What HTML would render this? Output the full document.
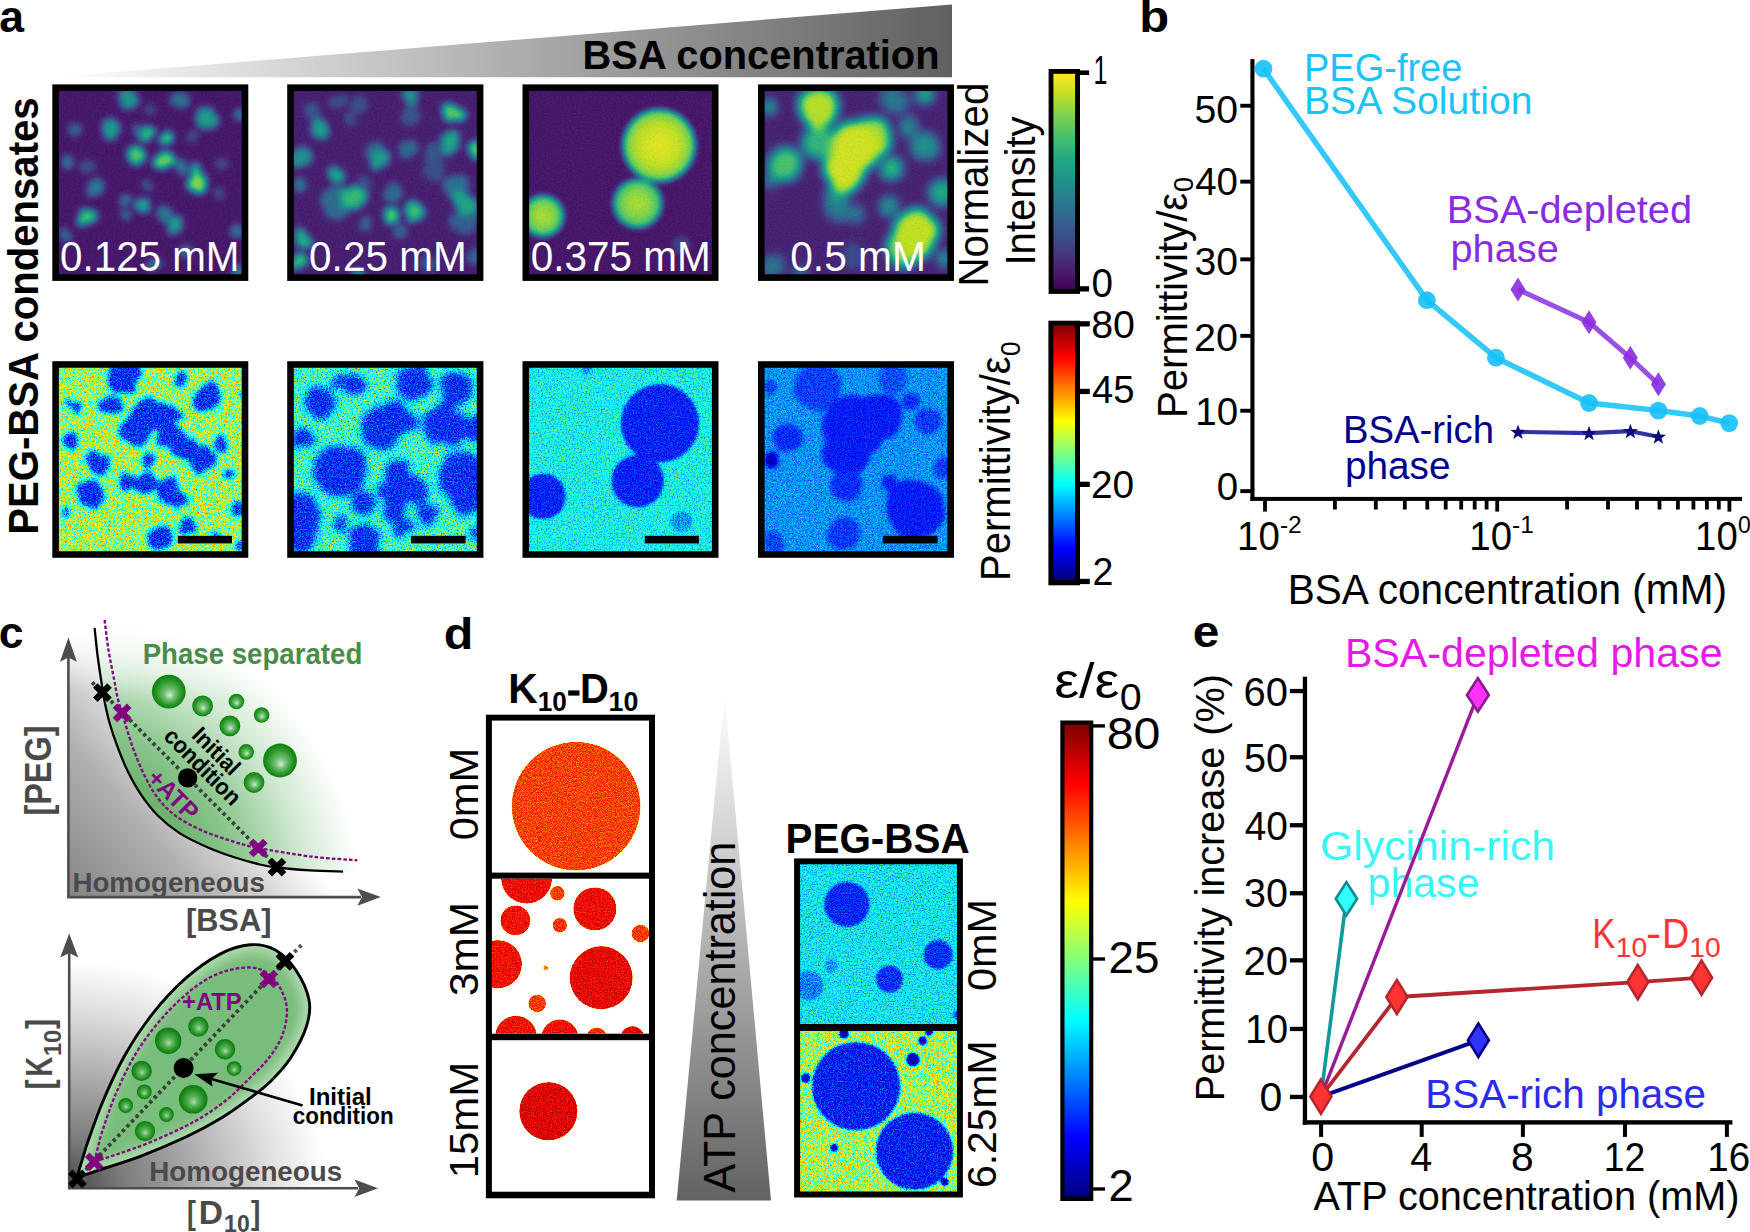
<!DOCTYPE html>
<html><head><meta charset="utf-8"><title>Figure</title>
<style>html,body{margin:0;padding:0;background:#fff}svg{display:block}text{font-family:"Liberation Sans",sans-serif}</style>
</head><body>
<svg width="1750" height="1232" viewBox="0 0 1750 1232">
<defs><linearGradient id="gWedgeA" x1="52" y1="0" x2="952" y2="0" gradientUnits="userSpaceOnUse"><stop offset="0" stop-color="#fff"/><stop offset="1" stop-color="#606060"/></linearGradient><linearGradient id="gVir" x1="0" y1="1" x2="0" y2="0"><stop offset="0" stop-color="rgb(68,1,84)"/><stop offset="0.1" stop-color="rgb(72,35,116)"/><stop offset="0.2" stop-color="rgb(64,67,135)"/><stop offset="0.3" stop-color="rgb(52,94,141)"/><stop offset="0.4" stop-color="rgb(41,120,142)"/><stop offset="0.5" stop-color="rgb(32,144,140)"/><stop offset="0.6" stop-color="rgb(34,167,132)"/><stop offset="0.7" stop-color="rgb(68,190,112)"/><stop offset="0.8" stop-color="rgb(121,209,81)"/><stop offset="0.9" stop-color="rgb(189,222,38)"/><stop offset="1" stop-color="rgb(253,231,36)"/></linearGradient><linearGradient id="gJet" x1="0" y1="1" x2="0" y2="0"><stop offset="0" stop-color="rgb(0,0,128)"/><stop offset="0.125" stop-color="rgb(0,0,255)"/><stop offset="0.375" stop-color="rgb(0,255,255)"/><stop offset="0.625" stop-color="rgb(255,255,0)"/><stop offset="0.875" stop-color="rgb(255,0,0)"/><stop offset="1" stop-color="rgb(128,0,0)"/></linearGradient><radialGradient id="gC1"><stop offset="0" stop-color="rgb(245,245,245)"/><stop offset="0.55" stop-color="rgb(232,232,232)"/><stop offset="0.85" stop-color="rgb(205,205,205)"/><stop offset="1" stop-color="rgb(150,150,150)"/></radialGradient><radialGradient id="gC2"><stop offset="0" stop-color="rgb(225,225,225)"/><stop offset="0.5" stop-color="rgb(210,210,210)"/><stop offset="0.85" stop-color="rgb(180,180,180)"/><stop offset="1" stop-color="rgb(130,130,130)"/></radialGradient><filter id="fV1" x="-5%" y="-5%" width="110%" height="110%" color-interpolation-filters="sRGB"><feTurbulence type="fractalNoise" baseFrequency="0.05" numOctaves="2" seed="103" result="dn"/><feDisplacementMap in="SourceGraphic" in2="dn" scale="14" xChannelSelector="R" yChannelSelector="G" result="d"/><feGaussianBlur in="d" stdDeviation="3.3" result="b"/><feTurbulence type="fractalNoise" baseFrequency="0.5" numOctaves="2" seed="3" result="n"/><feColorMatrix in="n" type="matrix" values="1 0 0 0 0 1 0 0 0 0 1 0 0 0 0 0 0 0 0 1" result="ng"/><feComposite in="b" in2="ng" operator="arithmetic" k1="0" k2="1" k3="0.08" k4="-0.04" result="v"/><feComponentTransfer in="v" result="c"><feFuncR type="table" tableValues="0.267 0.282 0.251 0.204 0.161 0.125 0.133 0.267 0.475 0.741 0.992"/><feFuncG type="table" tableValues="0.004 0.137 0.263 0.369 0.471 0.565 0.655 0.745 0.820 0.871 0.906"/><feFuncB type="table" tableValues="0.329 0.455 0.529 0.553 0.557 0.549 0.518 0.439 0.318 0.149 0.141"/></feComponentTransfer></filter><filter id="fV3" x="-5%" y="-5%" width="110%" height="110%" color-interpolation-filters="sRGB"><feGaussianBlur in="SourceGraphic" stdDeviation="2.4" result="b"/><feTurbulence type="fractalNoise" baseFrequency="0.6" numOctaves="2" seed="5" result="n"/><feColorMatrix in="n" type="matrix" values="1 0 0 0 0 1 0 0 0 0 1 0 0 0 0 0 0 0 0 1" result="ng"/><feComposite in="b" in2="ng" operator="arithmetic" k1="0" k2="1" k3="0.1" k4="-0.05" result="v"/><feComponentTransfer in="v" result="c"><feFuncR type="table" tableValues="0.267 0.282 0.251 0.204 0.161 0.125 0.133 0.267 0.475 0.741 0.992"/><feFuncG type="table" tableValues="0.004 0.137 0.263 0.369 0.471 0.565 0.655 0.745 0.820 0.871 0.906"/><feFuncB type="table" tableValues="0.329 0.455 0.529 0.553 0.557 0.549 0.518 0.439 0.318 0.149 0.141"/></feComponentTransfer></filter><filter id="fV4" x="-5%" y="-5%" width="110%" height="110%" color-interpolation-filters="sRGB"><feTurbulence type="fractalNoise" baseFrequency="0.03" numOctaves="2" seed="107" result="dn"/><feDisplacementMap in="SourceGraphic" in2="dn" scale="10" xChannelSelector="R" yChannelSelector="G" result="d"/><feGaussianBlur in="d" stdDeviation="5" result="b"/><feTurbulence type="fractalNoise" baseFrequency="0.6" numOctaves="2" seed="7" result="n"/><feColorMatrix in="n" type="matrix" values="1 0 0 0 0 1 0 0 0 0 1 0 0 0 0 0 0 0 0 1" result="ng"/><feComposite in="b" in2="ng" operator="arithmetic" k1="0" k2="1" k3="0.1" k4="-0.05" result="v"/><feComponentTransfer in="v" result="c"><feFuncR type="table" tableValues="0.267 0.282 0.251 0.204 0.161 0.125 0.133 0.267 0.475 0.741 0.992"/><feFuncG type="table" tableValues="0.004 0.137 0.263 0.369 0.471 0.565 0.655 0.745 0.820 0.871 0.906"/><feFuncB type="table" tableValues="0.329 0.455 0.529 0.553 0.557 0.549 0.518 0.439 0.318 0.149 0.141"/></feComponentTransfer></filter><filter id="fJ1" x="-5%" y="-5%" width="110%" height="110%" color-interpolation-filters="sRGB"><feTurbulence type="fractalNoise" baseFrequency="0.05" numOctaves="2" seed="111" result="dn"/><feDisplacementMap in="SourceGraphic" in2="dn" scale="16" xChannelSelector="R" yChannelSelector="G" result="d"/><feGaussianBlur in="d" stdDeviation="2.9" result="b"/><feTurbulence type="fractalNoise" baseFrequency="0.75" numOctaves="2" seed="11" result="n"/><feColorMatrix in="n" type="matrix" values="1 0 0 0 0 1 0 0 0 0 1 0 0 0 0 0 0 0 0 1" result="ng"/><feComposite in="b" in2="ng" operator="arithmetic" k1="0.852" k2="0.574" k3="0.304" k4="-0.152" result="v"/><feComponentTransfer in="v" result="c"><feFuncR type="table" tableValues="0 0 0 0 .5 1 1 1 .5"/><feFuncG type="table" tableValues="0 0 .5 1 1 1 .5 0 0"/><feFuncB type="table" tableValues=".5 1 1 1 .5 0 0 0 0"/></feComponentTransfer></filter><filter id="fJ2" x="-5%" y="-5%" width="110%" height="110%" color-interpolation-filters="sRGB"><feTurbulence type="fractalNoise" baseFrequency="0.05" numOctaves="2" seed="112" result="dn"/><feDisplacementMap in="SourceGraphic" in2="dn" scale="16" xChannelSelector="R" yChannelSelector="G" result="d"/><feGaussianBlur in="d" stdDeviation="3.6" result="b"/><feTurbulence type="fractalNoise" baseFrequency="0.75" numOctaves="2" seed="12" result="n"/><feColorMatrix in="n" type="matrix" values="1 0 0 0 0 1 0 0 0 0 1 0 0 0 0 0 0 0 0 1" result="ng"/><feComposite in="b" in2="ng" operator="arithmetic" k1="0.977" k2="0.512" k3="0.280" k4="-0.140" result="v"/><feComponentTransfer in="v" result="c"><feFuncR type="table" tableValues="0 0 0 0 .5 1 1 1 .5"/><feFuncG type="table" tableValues="0 0 .5 1 1 1 .5 0 0"/><feFuncB type="table" tableValues=".5 1 1 1 .5 0 0 0 0"/></feComponentTransfer></filter><filter id="fJ3" x="-5%" y="-5%" width="110%" height="110%" color-interpolation-filters="sRGB"><feGaussianBlur in="SourceGraphic" stdDeviation="1.6" result="b"/><feTurbulence type="fractalNoise" baseFrequency="0.75" numOctaves="2" seed="13" result="n"/><feColorMatrix in="n" type="matrix" values="1 0 0 0 0 1 0 0 0 0 1 0 0 0 0 0 0 0 0 1" result="ng"/><feComposite in="b" in2="ng" operator="arithmetic" k1="0.800" k2="0.600" k3="0.200" k4="-0.100" result="v"/><feComponentTransfer in="v" result="c"><feFuncR type="table" tableValues="0 0 0 0 .5 1 1 1 .5"/><feFuncG type="table" tableValues="0 0 .5 1 1 1 .5 0 0"/><feFuncB type="table" tableValues=".5 1 1 1 .5 0 0 0 0"/></feComponentTransfer></filter><filter id="fJ4" x="-5%" y="-5%" width="110%" height="110%" color-interpolation-filters="sRGB"><feTurbulence type="fractalNoise" baseFrequency="0.03" numOctaves="2" seed="117" result="dn"/><feDisplacementMap in="SourceGraphic" in2="dn" scale="7" xChannelSelector="R" yChannelSelector="G" result="d"/><feGaussianBlur in="d" stdDeviation="2.3" result="b"/><feTurbulence type="fractalNoise" baseFrequency="0.75" numOctaves="2" seed="17" result="n"/><feColorMatrix in="n" type="matrix" values="1 0 0 0 0 1 0 0 0 0 1 0 0 0 0 0 0 0 0 1" result="ng"/><feComposite in="b" in2="ng" operator="arithmetic" k1="0.815" k2="0.592" k3="0.144" k4="-0.072" result="v"/><feComponentTransfer in="v" result="c"><feFuncR type="table" tableValues="0 0 0 0 .5 1 1 1 .5"/><feFuncG type="table" tableValues="0 0 .5 1 1 1 .5 0 0"/><feFuncB type="table" tableValues=".5 1 1 1 .5 0 0 0 0"/></feComponentTransfer></filter><filter id="fK1" x="-5%" y="-5%" width="110%" height="110%" color-interpolation-filters="sRGB"><feTurbulence type="fractalNoise" baseFrequency="0.8" numOctaves="2" seed="21" result="n"/><feColorMatrix in="n" type="matrix" values="1 0 0 0 0 1 0 0 0 0 1 0 0 0 0 0 0 0 0 1" result="ng"/><feComposite in="SourceGraphic" in2="ng" operator="arithmetic" k1="0" k2="1" k3="0.35" k4="-0.175" result="v"/><feComponentTransfer in="v" result="c"><feFuncR type="table" tableValues="0 0 0 0 .5 1 1 1 .5"/><feFuncG type="table" tableValues="0 0 .5 1 1 1 .5 0 0"/><feFuncB type="table" tableValues=".5 1 1 1 .5 0 0 0 0"/></feComponentTransfer><feComposite in="c" in2="SourceGraphic" operator="in"/></filter><filter id="fK2" x="-5%" y="-5%" width="110%" height="110%" color-interpolation-filters="sRGB"><feTurbulence type="fractalNoise" baseFrequency="0.8" numOctaves="2" seed="23" result="n"/><feColorMatrix in="n" type="matrix" values="1 0 0 0 0 1 0 0 0 0 1 0 0 0 0 0 0 0 0 1" result="ng"/><feComposite in="SourceGraphic" in2="ng" operator="arithmetic" k1="0" k2="1" k3="0.3" k4="-0.15" result="v"/><feComponentTransfer in="v" result="c"><feFuncR type="table" tableValues="0 0 0 0 .5 1 1 1 .5"/><feFuncG type="table" tableValues="0 0 .5 1 1 1 .5 0 0"/><feFuncB type="table" tableValues=".5 1 1 1 .5 0 0 0 0"/></feComponentTransfer><feComposite in="c" in2="SourceGraphic" operator="in"/></filter><filter id="fP1" x="-5%" y="-5%" width="110%" height="110%" color-interpolation-filters="sRGB"><feGaussianBlur in="SourceGraphic" stdDeviation="1.3" result="b"/><feTurbulence type="fractalNoise" baseFrequency="0.75" numOctaves="2" seed="27" result="n"/><feColorMatrix in="n" type="matrix" values="1 0 0 0 0 1 0 0 0 0 1 0 0 0 0 0 0 0 0 1" result="ng"/><feComposite in="b" in2="ng" operator="arithmetic" k1="0.845" k2="0.577" k3="0.200" k4="-0.100" result="v"/><feComponentTransfer in="v" result="c"><feFuncR type="table" tableValues="0 0 0 0 .5 1 1 1 .5"/><feFuncG type="table" tableValues="0 0 .5 1 1 1 .5 0 0"/><feFuncB type="table" tableValues=".5 1 1 1 .5 0 0 0 0"/></feComponentTransfer></filter><filter id="fP2" x="-5%" y="-5%" width="110%" height="110%" color-interpolation-filters="sRGB"><feGaussianBlur in="SourceGraphic" stdDeviation="0.9" result="b"/><feTurbulence type="fractalNoise" baseFrequency="0.75" numOctaves="2" seed="29" result="n"/><feColorMatrix in="n" type="matrix" values="1 0 0 0 0 1 0 0 0 0 1 0 0 0 0 0 0 0 0 1" result="ng"/><feComposite in="b" in2="ng" operator="arithmetic" k1="0.889" k2="0.556" k3="0.320" k4="-0.160" result="v"/><feComponentTransfer in="v" result="c"><feFuncR type="table" tableValues="0 0 0 0 .5 1 1 1 .5"/><feFuncG type="table" tableValues="0 0 .5 1 1 1 .5 0 0"/><feFuncB type="table" tableValues=".5 1 1 1 .5 0 0 0 0"/></feComponentTransfer></filter><linearGradient id="gWedgeD" x1="0" y1="693" x2="0" y2="1201" gradientUnits="userSpaceOnUse"><stop offset="0" stop-color="#fff"/><stop offset="1" stop-color="#626262"/></linearGradient><radialGradient id="gSph" cx="0.5" cy="0.5" fx="0.53" fy="0.62" r="0.5"><stop offset="0" stop-color="#d4ecd4"/><stop offset="0.3" stop-color="#78c278"/><stop offset="0.7" stop-color="#2c9a2c"/><stop offset="1" stop-color="#0d7f0d"/></radialGradient><radialGradient id="gSph2" cx="0.5" cy="0.5" fx="0.52" fy="0.6" r="0.5"><stop offset="0" stop-color="#a6dba6"/><stop offset="0.35" stop-color="#58b158"/><stop offset="0.75" stop-color="#228f22"/><stop offset="1" stop-color="#0b780b"/></radialGradient><linearGradient id="gGray1" x1="68" y1="897" x2="222" y2="762" gradientUnits="userSpaceOnUse"><stop offset="0" stop-color="#848484"/><stop offset="0.5" stop-color="#b0b0b0"/><stop offset="0.75" stop-color="#d6d6d6"/><stop offset="1" stop-color="#fff"/></linearGradient><radialGradient id="gGray2" cx="0" cy="0" r="228" gradientUnits="userSpaceOnUse" gradientTransform="translate(68.8 1188.6) scale(1.13 1)"><stop offset="0" stop-color="#474747"/><stop offset="0.22" stop-color="#7c7c7c"/><stop offset="0.5" stop-color="#adadad"/><stop offset="0.78" stop-color="#dedede"/><stop offset="1" stop-color="#fff"/></radialGradient><radialGradient id="gTear" cx="190" cy="1075" r="130" gradientUnits="userSpaceOnUse"><stop offset="0" stop-color="#6db56d"/><stop offset="0.6" stop-color="#82c282"/><stop offset="1" stop-color="#a9d8a9"/></radialGradient><radialGradient id="gGreen1" cx="68" cy="897" r="292" gradientUnits="userSpaceOnUse"><stop offset="0" stop-color="#69b36b"/><stop offset="0.45" stop-color="#6db56f"/><stop offset="0.62" stop-color="#93ca95"/><stop offset="0.82" stop-color="#d3ead4"/><stop offset="1" stop-color="#fff"/></radialGradient><linearGradient id="gFadeTop" x1="0" y1="630" x2="0" y2="692" gradientUnits="userSpaceOnUse"><stop offset="0" stop-color="#fff" stop-opacity="1"/><stop offset="1" stop-color="#fff" stop-opacity="0"/></linearGradient><linearGradient id="gFadeTop2" x1="0" y1="622" x2="0" y2="700" gradientUnits="userSpaceOnUse"><stop offset="0" stop-color="#fff" stop-opacity="1"/><stop offset="1" stop-color="#fff" stop-opacity="0"/></linearGradient><filter id="fBlurG" x="-20%" y="-20%" width="140%" height="140%"><feGaussianBlur stdDeviation="14"/></filter><filter id="fBlurG2" x="-20%" y="-20%" width="140%" height="140%"><feGaussianBlur stdDeviation="6"/></filter></defs>
<polygon points="52,77.3 952,4.5 952,77.3" fill="url(#gWedgeA)"/><text x="582.6" y="68.9" font-size="40.4" font-weight="bold" textLength="356.9" lengthAdjust="spacingAndGlyphs">BSA concentration</text><text x="-0.8" y="32.2" font-size="44.5" font-weight="bold">a</text><text transform="translate(38.2 534.7) rotate(-90)" font-size="42.3" font-weight="bold" textLength="437.3" lengthAdjust="spacingAndGlyphs">PEG-BSA condensates</text><rect x="52.3" y="84.4" width="196.0" height="196.5" fill="#000"/><clipPath id="cpa0"><rect x="58.9" y="91.0" width="182.8" height="183.3"/></clipPath><g clip-path="url(#cpa0)"><g filter="url(#fV1)"><rect x="28.9" y="61.0" width="242.8" height="243.3" fill="rgb(18,18,18)"/><circle cx="128.7" cy="98.5" r="9.2" fill="rgb(130,130,130)"/><circle cx="180.5" cy="101.2" r="7.2" fill="rgb(95,95,95)"/><circle cx="207.3" cy="119.1" r="11.6" fill="rgb(138,138,138)"/><circle cx="109.1" cy="128.0" r="9.2" fill="rgb(138,138,138)"/><circle cx="74.2" cy="130.7" r="6.8" fill="rgb(89,89,89)"/><circle cx="139.4" cy="131.6" r="7.2" fill="rgb(95,95,95)"/><circle cx="147.5" cy="136.9" r="6.8" fill="rgb(177,177,177)"/><circle cx="166.2" cy="137.8" r="7.2" fill="rgb(191,191,191)"/><circle cx="135.9" cy="156.6" r="9.2" fill="rgb(183,183,183)"/><circle cx="164.4" cy="161.0" r="9.2" fill="rgb(197,197,197)"/><circle cx="178.7" cy="167.3" r="7.2" fill="rgb(106,106,106)"/><circle cx="194.8" cy="172.6" r="6.8" fill="rgb(146,146,146)"/><circle cx="196.6" cy="182.5" r="10.1" fill="rgb(208,208,208)"/><circle cx="68.9" cy="162.8" r="7.2" fill="rgb(106,106,106)"/><circle cx="94.8" cy="186.9" r="9.2" fill="rgb(106,106,106)"/><circle cx="126.9" cy="199.4" r="6.3" fill="rgb(106,106,106)"/><circle cx="143.0" cy="205.7" r="7.2" fill="rgb(146,146,146)"/><circle cx="87.6" cy="217.3" r="10.1" fill="rgb(177,177,177)"/><circle cx="175.1" cy="224.4" r="8.7" fill="rgb(142,142,142)"/><circle cx="164.4" cy="213.7" r="7.2" fill="rgb(106,106,106)"/><circle cx="235.0" cy="231.6" r="6.3" fill="rgb(106,106,106)"/><circle cx="243.0" cy="115.5" r="5.3" fill="rgb(106,106,106)"/><circle cx="221.6" cy="165.5" r="7.2" fill="rgb(65,65,65)"/><circle cx="148.4" cy="183.4" r="6.3" fill="rgb(69,69,69)"/><circle cx="153.7" cy="263.7" r="6.3" fill="rgb(106,106,106)"/><circle cx="237.6" cy="270.9" r="6.3" fill="rgb(130,130,130)"/><circle cx="185.9" cy="249.4" r="6.3" fill="rgb(95,95,95)"/><circle cx="64.4" cy="235.1" r="5.3" fill="rgb(95,95,95)"/><circle cx="150.1" cy="110.1" r="6.0" fill="rgb(65,65,65)"/><circle cx="191.2" cy="135.1" r="6.0" fill="rgb(65,65,65)"/><circle cx="221.6" cy="194.1" r="6.0" fill="rgb(65,65,65)"/><circle cx="87.6" cy="167.3" r="6.8" fill="rgb(65,65,65)"/><circle cx="126.9" cy="213.7" r="5.3" fill="rgb(85,85,85)"/></g></g><text x="60.1" y="270.7" font-size="41.8" fill="#fff" textLength="179.3" lengthAdjust="spacingAndGlyphs">0.125 mM</text><rect x="287.2" y="84.4" width="196.2" height="196.5" fill="#000"/><clipPath id="cpa1"><rect x="293.8" y="91.0" width="183.0" height="183.3"/></clipPath><g clip-path="url(#cpa1)"><g filter="url(#fV1)"><rect x="263.8" y="61.0" width="243.0" height="243.3" fill="rgb(23,23,23)"/><circle cx="358.4" cy="104.8" r="9.3" fill="rgb(66,66,66)"/><circle cx="338.7" cy="101.2" r="7.0" fill="rgb(66,66,66)"/><circle cx="349.4" cy="120.9" r="5.8" fill="rgb(66,66,66)"/><circle cx="410.1" cy="113.7" r="11.6" fill="rgb(70,70,70)"/><circle cx="433.4" cy="154.8" r="11.6" fill="rgb(70,70,70)"/><circle cx="435.1" cy="170.9" r="11.6" fill="rgb(62,62,62)"/><circle cx="310.1" cy="110.1" r="9.3" fill="rgb(70,70,70)"/><circle cx="363.7" cy="181.6" r="7.0" fill="rgb(66,66,66)"/><circle cx="336.9" cy="203.0" r="17.4" fill="rgb(90,90,90)"/><circle cx="456.6" cy="188.7" r="13.9" fill="rgb(96,96,96)"/><circle cx="463.7" cy="220.9" r="14.4" fill="rgb(78,78,78)"/><circle cx="392.3" cy="192.3" r="9.3" fill="rgb(90,90,90)"/><circle cx="374.4" cy="149.4" r="8.4" fill="rgb(90,90,90)"/><circle cx="406.6" cy="149.4" r="9.3" fill="rgb(90,90,90)"/><circle cx="367.3" cy="224.4" r="7.0" fill="rgb(90,90,90)"/><circle cx="399.4" cy="229.8" r="7.0" fill="rgb(90,90,90)"/><circle cx="429.8" cy="261.9" r="9.3" fill="rgb(66,66,66)"/><circle cx="474.4" cy="256.6" r="7.0" fill="rgb(86,86,86)"/><circle cx="299.4" cy="183.4" r="5.8" fill="rgb(107,107,107)"/><circle cx="301.2" cy="158.4" r="9.3" fill="rgb(127,127,127)"/><circle cx="318.2" cy="128.0" r="10.4" fill="rgb(143,143,143)"/><circle cx="410.1" cy="95.9" r="7.0" fill="rgb(131,131,131)"/><circle cx="453.0" cy="113.7" r="10.4" fill="rgb(188,188,188)"/><circle cx="449.4" cy="140.5" r="9.3" fill="rgb(151,151,151)"/><circle cx="451.2" cy="149.4" r="8.4" fill="rgb(147,147,147)"/><circle cx="476.2" cy="149.4" r="9.3" fill="rgb(188,188,188)"/><circle cx="378.9" cy="159.2" r="9.3" fill="rgb(139,139,139)"/><circle cx="336.0" cy="175.3" r="8.4" fill="rgb(147,147,147)"/><circle cx="353.0" cy="199.4" r="11.6" fill="rgb(168,168,168)"/><circle cx="390.5" cy="215.5" r="8.4" fill="rgb(188,188,188)"/><circle cx="415.5" cy="211.0" r="9.3" fill="rgb(172,172,172)"/><circle cx="463.7" cy="203.0" r="11.1" fill="rgb(147,147,147)"/><circle cx="303.0" cy="238.7" r="10.7" fill="rgb(158,158,158)"/><circle cx="299.4" cy="261.9" r="7.0" fill="rgb(178,178,178)"/><circle cx="360.1" cy="274.4" r="5.8" fill="rgb(147,147,147)"/></g></g><text x="309.1" y="270.7" font-size="41.8" fill="#fff" textLength="157.6" lengthAdjust="spacingAndGlyphs">0.25 mM</text><rect x="522.5" y="84.4" width="196.0" height="196.5" fill="#000"/><clipPath id="cpa2"><rect x="529.1" y="91.0" width="182.8" height="183.3"/></clipPath><g clip-path="url(#cpa2)"><g filter="url(#fV3)"><rect x="499.1" y="61.0" width="242.8" height="243.3" fill="rgb(17,17,17)"/><circle cx="681.4" cy="244.6" r="9" fill="rgb(50,50,50)"/><circle cx="659.1" cy="145.5" r="36.8" fill="url(#gC1)"/><circle cx="637.7" cy="203.6" r="24.8" fill="url(#gC2)"/><circle cx="543" cy="216" r="21.2" fill="url(#gC2)"/></g></g><text x="530.7" y="270.7" font-size="41.8" fill="#fff" textLength="179.9" lengthAdjust="spacingAndGlyphs">0.375 mM</text><rect x="758.0" y="84.4" width="196.0" height="196.5" fill="#000"/><clipPath id="cpa3"><rect x="764.6" y="91.0" width="182.8" height="183.3"/></clipPath><g clip-path="url(#cpa3)"><g filter="url(#fV4)"><rect x="734.6" y="61.0" width="242.8" height="243.3" fill="rgb(26,26,26)"/><circle cx="854.1" cy="255.6" r="11.3" fill="rgb(62,62,62)"/><circle cx="800.6" cy="273.4" r="7.5" fill="rgb(86,86,86)"/><circle cx="770.2" cy="182.4" r="7.5" fill="rgb(98,98,98)"/><circle cx="893.4" cy="100.2" r="14.1" fill="rgb(103,103,103)"/><circle cx="839.9" cy="209.1" r="13.5" fill="rgb(103,103,103)"/><circle cx="855.9" cy="212.7" r="9.8" fill="rgb(103,103,103)"/><circle cx="772.0" cy="266.3" r="11.3" fill="rgb(103,103,103)"/><circle cx="909.5" cy="127.0" r="9.8" fill="rgb(115,115,115)"/><circle cx="925.6" cy="146.6" r="13.5" fill="rgb(127,127,127)"/><circle cx="836.3" cy="194.9" r="11.3" fill="rgb(127,127,127)"/><circle cx="888.1" cy="205.6" r="9.4" fill="rgb(127,127,127)"/><circle cx="945.2" cy="259.1" r="7.5" fill="rgb(127,127,127)"/><circle cx="768.4" cy="107.4" r="7.5" fill="rgb(147,147,147)"/><circle cx="925.6" cy="94.0" r="9.4" fill="rgb(147,147,147)"/><circle cx="941.6" cy="191.3" r="13.5" fill="rgb(151,151,151)"/><circle cx="818.4" cy="143.1" r="17.3" fill="rgb(166,166,166)"/><circle cx="891.6" cy="168.1" r="11.6" fill="rgb(166,166,166)"/><circle cx="784.5" cy="164.5" r="17.3" fill="rgb(181,181,181)"/><circle cx="872.0" cy="137.7" r="19.1" fill="rgb(214,214,214)"/><circle cx="818.4" cy="107.4" r="21.0" fill="rgb(227,227,227)"/><circle cx="902.4" cy="248.4" r="18.8" fill="rgb(207,207,207)"/><circle cx="914.9" cy="234.1" r="24.4" fill="rgb(231,231,231)"/><circle cx="843.4" cy="171.6" r="21.0" fill="rgb(236,236,236)"/><circle cx="854.1" cy="148.4" r="24.8" fill="rgb(236,236,236)"/></g></g><text x="790.2" y="270.7" font-size="41.8" fill="#fff" textLength="135.8" lengthAdjust="spacingAndGlyphs">0.5 mM</text><rect x="52.3" y="361.2" width="196.0" height="196.6" fill="#000"/><clipPath id="cpb0"><rect x="58.9" y="367.8" width="182.8" height="183.4"/></clipPath><g clip-path="url(#cpb0)"><g filter="url(#fJ1)"><rect x="28.9" y="337.8" width="242.8" height="243.4" fill="rgb(136,136,136)"/><circle cx="122.6" cy="377.2" r="16.4" fill="rgb(43,43,43)"/><circle cx="181.5" cy="379.0" r="8.2" fill="rgb(43,43,43)"/><circle cx="208.3" cy="396.9" r="14.4" fill="rgb(43,43,43)"/><circle cx="111.0" cy="404.9" r="11.3" fill="rgb(43,43,43)"/><circle cx="76.1" cy="408.5" r="7.2" fill="rgb(43,43,43)"/><circle cx="147.6" cy="414.7" r="16.4" fill="rgb(43,43,43)"/><circle cx="167.2" cy="414.7" r="14.4" fill="rgb(43,43,43)"/><circle cx="135.1" cy="432.6" r="15.4" fill="rgb(43,43,43)"/><circle cx="169.0" cy="434.4" r="14.4" fill="rgb(43,43,43)"/><circle cx="185.1" cy="446.9" r="12.3" fill="rgb(43,43,43)"/><circle cx="201.1" cy="459.4" r="15.4" fill="rgb(43,43,43)"/><circle cx="70.8" cy="441.5" r="8.2" fill="rgb(43,43,43)"/><circle cx="97.6" cy="464.7" r="12.3" fill="rgb(43,43,43)"/><circle cx="149.4" cy="461.1" r="8.2" fill="rgb(43,43,43)"/><circle cx="127.9" cy="480.8" r="9.2" fill="rgb(43,43,43)"/><circle cx="146.7" cy="482.6" r="11.3" fill="rgb(43,43,43)"/><circle cx="169.0" cy="491.5" r="13.3" fill="rgb(43,43,43)"/><circle cx="179.7" cy="500.4" r="9.2" fill="rgb(43,43,43)"/><circle cx="91.3" cy="495.1" r="15.4" fill="rgb(43,43,43)"/><circle cx="238.6" cy="508.5" r="8.2" fill="rgb(43,43,43)"/><circle cx="186.9" cy="526.3" r="8.2" fill="rgb(43,43,43)"/><circle cx="158.3" cy="537.9" r="12.3" fill="rgb(43,43,43)"/><circle cx="217.2" cy="535.2" r="6.2" fill="rgb(43,43,43)"/><circle cx="240.4" cy="546.9" r="7.2" fill="rgb(43,43,43)"/><circle cx="220.8" cy="443.3" r="8.2" fill="rgb(43,43,43)"/><circle cx="224.4" cy="473.6" r="6.2" fill="rgb(43,43,43)"/><circle cx="65.4" cy="511.1" r="5.1" fill="rgb(43,43,43)"/><circle cx="244.0" cy="393.3" r="4.1" fill="rgb(43,43,43)"/><circle cx="67.2" cy="404.0" r="5.1" fill="rgb(43,43,43)"/></g></g><rect x="177.9" y="535.8" width="54.1" height="7.6" fill="#000"/><rect x="287.2" y="361.2" width="196.2" height="196.6" fill="#000"/><clipPath id="cpb1"><rect x="293.8" y="367.8" width="183.0" height="183.4"/></clipPath><g clip-path="url(#cpb1)"><g filter="url(#fJ2)"><rect x="263.8" y="337.8" width="243.0" height="243.4" fill="rgb(110,110,110)"/><circle cx="320.1" cy="402.2" r="17.9" fill="rgb(43,43,43)"/><circle cx="355.8" cy="384.4" r="10.5" fill="rgb(43,43,43)"/><circle cx="337.9" cy="380.8" r="8.4" fill="rgb(43,43,43)"/><circle cx="414.7" cy="380.8" r="17.9" fill="rgb(43,43,43)"/><circle cx="455.8" cy="387.9" r="17.9" fill="rgb(43,43,43)"/><circle cx="475.4" cy="429.0" r="15.8" fill="rgb(43,43,43)"/><circle cx="445.1" cy="425.4" r="22.1" fill="rgb(43,43,43)"/><circle cx="380.8" cy="429.0" r="20.0" fill="rgb(43,43,43)"/><circle cx="395.1" cy="412.9" r="12.6" fill="rgb(43,43,43)"/><circle cx="407.6" cy="425.4" r="11.6" fill="rgb(43,43,43)"/><circle cx="302.2" cy="437.9" r="11.6" fill="rgb(43,43,43)"/><circle cx="339.7" cy="470.1" r="28.4" fill="rgb(43,43,43)"/><circle cx="302.2" cy="514.7" r="20.0" fill="rgb(43,43,43)"/><circle cx="302.2" cy="541.5" r="13.7" fill="rgb(43,43,43)"/><circle cx="393.3" cy="470.1" r="13.7" fill="rgb(43,43,43)"/><circle cx="393.3" cy="493.3" r="13.7" fill="rgb(43,43,43)"/><circle cx="393.3" cy="511.1" r="11.6" fill="rgb(43,43,43)"/><circle cx="414.7" cy="489.7" r="15.8" fill="rgb(43,43,43)"/><circle cx="461.1" cy="475.4" r="24.2" fill="rgb(43,43,43)"/><circle cx="466.5" cy="500.4" r="17.9" fill="rgb(43,43,43)"/><circle cx="364.7" cy="502.2" r="11.6" fill="rgb(43,43,43)"/><circle cx="341.5" cy="523.6" r="8.4" fill="rgb(43,43,43)"/><circle cx="362.9" cy="543.3" r="17.9" fill="rgb(43,43,43)"/><circle cx="402.2" cy="529.0" r="10.5" fill="rgb(43,43,43)"/><circle cx="427.2" cy="512.9" r="10.5" fill="rgb(43,43,43)"/><circle cx="477.2" cy="532.6" r="6.3" fill="rgb(43,43,43)"/></g></g><rect x="411.0" y="535.8" width="54.7" height="7.6" fill="#000"/><rect x="522.5" y="361.2" width="196.0" height="196.6" fill="#000"/><clipPath id="cpb2"><rect x="529.1" y="367.8" width="182.8" height="183.4"/></clipPath><g clip-path="url(#cpb2)"><g filter="url(#fJ3)"><rect x="499.1" y="337.8" width="242.8" height="243.4" fill="rgb(96,96,96)"/><circle cx="681.4" cy="521.4" r="10.7" fill="rgb(69,69,69)"/><circle cx="660.0" cy="423.2" r="39.3" fill="rgb(40,40,40)"/><circle cx="637.7" cy="481.2" r="26.4" fill="rgb(40,40,40)"/><circle cx="543.0" cy="496.4" r="22.9" fill="rgb(40,40,40)"/><circle cx="586.8" cy="369.6" r="5.4" fill="rgb(69,69,69)"/></g></g><rect x="644.8" y="535.8" width="54.1" height="7.6" fill="#000"/><rect x="758.0" y="361.2" width="196.0" height="196.6" fill="#000"/><clipPath id="cpb3"><rect x="764.6" y="367.8" width="182.8" height="183.4"/></clipPath><g clip-path="url(#cpb3)"><g filter="url(#fJ4)"><rect x="734.6" y="337.8" width="242.8" height="243.4" fill="rgb(68,68,68)"/><circle cx="818.4" cy="387.7" r="24.1" fill="rgb(48,48,48)"/><circle cx="893.4" cy="378.8" r="15.2" fill="rgb(51,51,51)"/><circle cx="854.1" cy="427.0" r="31.3" fill="rgb(38,38,38)"/><circle cx="847.0" cy="452.0" r="24.1" fill="rgb(38,38,38)"/><circle cx="879.1" cy="416.3" r="24.1" fill="rgb(38,38,38)"/><circle cx="788.1" cy="439.5" r="15.2" fill="rgb(43,43,43)"/><circle cx="772.0" cy="460.9" r="7.1" fill="rgb(15,15,15)"/><circle cx="911.3" cy="402.0" r="9.3" fill="rgb(43,43,43)"/><circle cx="927.4" cy="421.6" r="12.9" fill="rgb(46,46,46)"/><circle cx="889.9" cy="484.1" r="8.2" fill="rgb(38,38,38)"/><circle cx="914.9" cy="509.1" r="29.5" fill="rgb(38,38,38)"/><circle cx="847.0" cy="485.9" r="16.4" fill="rgb(43,43,43)"/><circle cx="843.4" cy="534.1" r="16.4" fill="rgb(46,46,46)"/><circle cx="943.4" cy="468.1" r="9.8" fill="rgb(46,46,46)"/><circle cx="773.8" cy="541.3" r="10.7" fill="rgb(48,48,48)"/><circle cx="770.2" cy="387.7" r="7.1" fill="rgb(46,46,46)"/></g></g><rect x="882.9" y="535.8" width="54.6" height="7.6" fill="#000"/><rect x="1048.6" y="69" width="31.4" height="224.9" fill="#000"/><rect x="1053.4" y="73.8" width="21.7" height="215.2" fill="url(#gVir)"/><rect x="1079.5" y="70.4" width="9.6" height="4.6" fill="#000"/><rect x="1079.5" y="286.2" width="9.6" height="5.3" fill="#000"/><text x="1093.6" y="83.8" font-size="40.9" textLength="13.9" lengthAdjust="spacingAndGlyphs">1</text><text x="1091.4" y="296.6" font-size="40.3" textLength="21.5" lengthAdjust="spacingAndGlyphs">0</text><text transform="translate(988.0 286.5) rotate(-90)" font-size="42.5" textLength="203.8" lengthAdjust="spacingAndGlyphs">Normalized</text><text transform="translate(1034.8 265.5) rotate(-90)" font-size="42.5" textLength="149.1" lengthAdjust="spacingAndGlyphs">Intensity</text><rect x="1048.4" y="320.7" width="31.6" height="264.6" fill="#000"/><rect x="1053.4" y="325.4" width="21.6" height="254.5" fill="url(#gJet)"/><rect x="1079.5" y="321.2" width="10.3" height="5.3" fill="#000"/><rect x="1079.5" y="388.8" width="10.3" height="5.3" fill="#000"/><rect x="1079.5" y="481.7" width="10.3" height="5.3" fill="#000"/><rect x="1079.5" y="578.8" width="10.3" height="5.3" fill="#000"/><text x="1091.2" y="337.5" font-size="39.7" textLength="43.8" lengthAdjust="spacingAndGlyphs">80</text><text x="1092.1" y="403.4" font-size="39.7" textLength="42.5" lengthAdjust="spacingAndGlyphs">45</text><text x="1090.9" y="497.9" font-size="39.7" textLength="43.2" lengthAdjust="spacingAndGlyphs">20</text><text x="1092.4" y="584.6" font-size="39.7" textLength="20.9" lengthAdjust="spacingAndGlyphs">2</text><text transform="translate(1010.0 581.0) rotate(-90)" font-size="42" textLength="224.7" lengthAdjust="spacingAndGlyphs">Permittivity/ε</text><text transform="translate(1020.0 356.0) rotate(-90)" font-size="27" textLength="14.6" lengthAdjust="spacingAndGlyphs">0</text>
<text x="1139.3" y="32.2" font-size="44.5" font-weight="bold" textLength="29.9" lengthAdjust="spacingAndGlyphs">b</text><rect x="1250.4" y="59.1" width="4.1" height="441.8" fill="#000"/><rect x="1250.4" y="496.9" width="491.6" height="4" fill="#000"/><rect x="1240.3" y="103.8" width="11" height="3.9" fill="#000"/><text x="1194.4" y="123.0" font-size="39.4" textLength="43.6" lengthAdjust="spacingAndGlyphs">50</text><rect x="1240.3" y="179.7" width="11" height="3.9" fill="#000"/><text x="1195.2" y="195.0" font-size="39.4" textLength="42.8" lengthAdjust="spacingAndGlyphs">40</text><rect x="1240.3" y="257.4" width="11" height="3.9" fill="#000"/><text x="1194.5" y="275.0" font-size="39.4" textLength="43.5" lengthAdjust="spacingAndGlyphs">30</text><rect x="1240.3" y="333.9" width="11" height="3.9" fill="#000"/><text x="1194.0" y="351.0" font-size="39.4" textLength="44.0" lengthAdjust="spacingAndGlyphs">20</text><rect x="1240.3" y="408.8" width="11" height="3.9" fill="#000"/><text x="1195.3" y="424.6" font-size="39.4" textLength="42.8" lengthAdjust="spacingAndGlyphs">10</text><rect x="1240.3" y="489.2" width="11" height="3.9" fill="#000"/><text x="1216.7" y="500.4" font-size="39.4" textLength="21.4" lengthAdjust="spacingAndGlyphs">0</text><rect x="1263.1" y="498.9" width="3.8" height="12.7" fill="#000"/><rect x="1333.0" y="498.9" width="3.8" height="10.6" fill="#000"/><rect x="1373.9" y="498.9" width="3.8" height="10.6" fill="#000"/><rect x="1402.9" y="498.9" width="3.8" height="10.6" fill="#000"/><rect x="1425.4" y="498.9" width="3.8" height="10.6" fill="#000"/><rect x="1443.8" y="498.9" width="3.8" height="10.6" fill="#000"/><rect x="1459.3" y="498.9" width="3.8" height="10.6" fill="#000"/><rect x="1472.8" y="498.9" width="3.8" height="10.6" fill="#000"/><rect x="1484.7" y="498.9" width="3.8" height="10.6" fill="#000"/><rect x="1495.3" y="498.9" width="3.8" height="12.7" fill="#000"/><rect x="1565.2" y="498.9" width="3.8" height="10.6" fill="#000"/><rect x="1606.1" y="498.9" width="3.8" height="10.6" fill="#000"/><rect x="1635.1" y="498.9" width="3.8" height="10.6" fill="#000"/><rect x="1657.6" y="498.9" width="3.8" height="10.6" fill="#000"/><rect x="1676.0" y="498.9" width="3.8" height="10.6" fill="#000"/><rect x="1691.5" y="498.9" width="3.8" height="10.6" fill="#000"/><rect x="1705.0" y="498.9" width="3.8" height="10.6" fill="#000"/><rect x="1716.9" y="498.9" width="3.8" height="10.6" fill="#000"/><rect x="1727.5" y="498.9" width="3.8" height="12.7" fill="#000"/><text x="1237.1" y="549.8" font-size="40.2" textLength="42.7" lengthAdjust="spacingAndGlyphs">10</text><text x="1279.9" y="532.7" font-size="24.6" textLength="21.8" lengthAdjust="spacingAndGlyphs">-2</text><text x="1469.3" y="549.8" font-size="40.2" textLength="42.7" lengthAdjust="spacingAndGlyphs">10</text><text x="1512.1" y="532.7" font-size="24.6" textLength="21.8" lengthAdjust="spacingAndGlyphs">-1</text><text x="1695.1" y="549.8" font-size="40.2" textLength="42.7" lengthAdjust="spacingAndGlyphs">10</text><text x="1738.1" y="532.7" font-size="24.6" textLength="12.8" lengthAdjust="spacingAndGlyphs">0</text><text x="1287.7" y="604.0" font-size="43" textLength="439.2" lengthAdjust="spacingAndGlyphs">BSA concentration (mM)</text><text transform="translate(1187.2 418.0) rotate(-90)" font-size="42" textLength="225.2" lengthAdjust="spacingAndGlyphs">Permittivity/ε</text><text transform="translate(1192.9 192.0) rotate(-90)" font-size="27.5" textLength="15.1" lengthAdjust="spacingAndGlyphs">0</text><polyline points="1263.5,68.7 1426.9,300.2 1495.9,357.7 1589.0,403.0 1658.4,410.6 1699.7,416.0 1729.2,423.1" fill="none" stroke="#35c8fa" stroke-width="5.5" stroke-linejoin="round"/><circle cx="1263.5" cy="68.7" r="8.9" fill="#16c0fa" fill-opacity="0.9"/><circle cx="1426.9" cy="300.2" r="8.9" fill="#16c0fa" fill-opacity="0.9"/><circle cx="1495.9" cy="357.7" r="8.9" fill="#16c0fa" fill-opacity="0.9"/><circle cx="1589.0" cy="403.0" r="8.9" fill="#16c0fa" fill-opacity="0.9"/><circle cx="1658.4" cy="410.6" r="8.9" fill="#16c0fa" fill-opacity="0.9"/><circle cx="1699.7" cy="416.0" r="8.9" fill="#16c0fa" fill-opacity="0.9"/><circle cx="1729.2" cy="423.1" r="8.9" fill="#16c0fa" fill-opacity="0.9"/><polyline points="1518.0,289.5 1589.0,322.2 1630.3,357.8 1658.4,384.3" fill="none" stroke="#9a50e8" stroke-width="5" stroke-linejoin="round"/><polygon points="1518.0,277.5 1525.5,289.5 1518.0,301.5 1510.5,289.5" fill="#8a2be2" fill-opacity="0.9"/><polygon points="1589.0,310.2 1596.5,322.2 1589.0,334.2 1581.5,322.2" fill="#8a2be2" fill-opacity="0.9"/><polygon points="1630.3,345.8 1637.8,357.8 1630.3,369.8 1622.8,357.8" fill="#8a2be2" fill-opacity="0.9"/><polygon points="1658.4,372.3 1665.9,384.3 1658.4,396.3 1650.9,384.3" fill="#8a2be2" fill-opacity="0.9"/><polyline points="1518.0,431.9 1589.0,433.2 1630.4,431.2 1658.4,436.8" fill="none" stroke="#3232a2" stroke-width="4.2" stroke-linejoin="round"/><polygon points="1518.0,424.4 1519.9,429.7 1525.6,429.9 1521.1,433.4 1522.7,438.9 1518.0,435.7 1513.3,438.9 1514.9,433.4 1510.4,429.9 1516.1,429.7" fill="#0b0b80"/><polygon points="1589.0,425.7 1590.9,431.0 1596.6,431.2 1592.1,434.7 1593.7,440.2 1589.0,437.0 1584.3,440.2 1585.9,434.7 1581.4,431.2 1587.1,431.0" fill="#0b0b80"/><polygon points="1630.4,423.7 1632.3,429.0 1638.0,429.2 1633.5,432.7 1635.1,438.2 1630.4,435.0 1625.7,438.2 1627.3,432.7 1622.8,429.2 1628.5,429.0" fill="#0b0b80"/><polygon points="1658.4,429.3 1660.3,434.6 1666.0,434.8 1661.5,438.3 1663.1,443.8 1658.4,440.6 1653.7,443.8 1655.3,438.3 1650.8,434.8 1656.5,434.6" fill="#0b0b80"/><text x="1304.0" y="81.4" font-size="39.4" fill="#1ac3fa" textLength="158.4" lengthAdjust="spacingAndGlyphs">PEG-free</text><text x="1303.9" y="114.0" font-size="39.4" fill="#1ac3fa" textLength="228.6" lengthAdjust="spacingAndGlyphs">BSA Solution</text><text x="1446.7" y="223.3" font-size="39.4" fill="#8a2be2" textLength="245.4" lengthAdjust="spacingAndGlyphs">BSA-depleted</text><text x="1450.5" y="261.5" font-size="39.4" fill="#8a2be2" textLength="108.3" lengthAdjust="spacingAndGlyphs">phase</text><text x="1342.9" y="442.6" font-size="39.4" fill="#00008b" textLength="151.2" lengthAdjust="spacingAndGlyphs">BSA-rich</text><text x="1345.0" y="478.7" font-size="39.4" fill="#00008b" textLength="105.5" lengthAdjust="spacingAndGlyphs">phase</text>
<text x="-1.2" y="647.5" font-size="44.5" font-weight="bold">c</text><clipPath id="cpc1"><rect x="68" y="620" width="300" height="277"/></clipPath><clipPath id="cpc1b"><path d="M68 628 L94.8 628 C95.1 632.5 96.4 646.3 97.5 655.0 C98.6 663.7 99.9 672.2 101.1 680.0 C102.3 687.8 103.2 694.6 104.7 701.9 C106.2 709.2 107.7 716.5 109.8 723.8 C111.9 731.1 114.2 737.9 117.1 745.7 C120.0 753.5 123.5 762.6 127.4 770.6 C131.3 778.6 135.4 786.4 140.5 793.9 C145.6 801.4 151.4 809.2 158.0 815.8 C164.6 822.4 171.4 828.0 179.9 833.4 C188.4 838.8 199.9 844.0 209.1 848.0 C218.3 852.0 226.5 854.8 235.0 857.5 C243.5 860.2 252.9 862.8 259.9 864.5 C266.9 866.2 268.6 866.5 277.0 867.5 C285.4 868.5 299.0 869.6 310.0 870.3 C321.0 871.0 337.5 871.4 343.0 871.6 L380 871.6 L380 896.8 L68 896.8 Z"/></clipPath><g clip-path="url(#cpc1b)"><rect x="68" y="620" width="320" height="277" fill="url(#gGray1)"/><rect x="68" y="620" width="320" height="100" fill="url(#gFadeTop)"/></g><clipPath id="cpc2"><path d="M94.6 628.0 C95.1 632.5 96.4 646.3 97.5 655.0 C98.6 663.7 99.9 672.2 101.1 680.0 C102.3 687.8 103.2 694.6 104.7 701.9 C106.2 709.2 107.7 716.5 109.8 723.8 C111.9 731.1 114.2 737.9 117.1 745.7 C120.0 753.5 123.5 762.6 127.4 770.6 C131.3 778.6 135.4 786.4 140.5 793.9 C145.6 801.4 151.4 809.2 158.0 815.8 C164.6 822.4 171.4 828.0 179.9 833.4 C188.4 838.8 199.9 844.0 209.1 848.0 C218.3 852.0 226.5 854.8 235.0 857.5 C243.5 860.2 252.9 862.8 259.9 864.5 C266.9 866.2 268.6 866.5 277.0 867.5 C285.4 868.5 299.0 869.6 310.0 870.3 C321.0 871.0 337.5 871.4 343.0 871.6 L380 871.6 L380 600 L94.8 600 Z"/></clipPath><g clip-path="url(#cpc2)"><rect x="68" y="600" width="320" height="297" fill="url(#gGreen1)"/><rect x="68" y="598" width="320" height="110" fill="url(#gFadeTop2)"/></g><path d="M68.4 897 L68.4 655" stroke="#4d4d4d" stroke-width="2.6" fill="none"/><polygon points="68.4,637.5 76.8,661.8 68.4,657.5 60,661.8" fill="#4d4d4d"/><path d="M67.1 897.1 L361 897.1" stroke="#4d4d4d" stroke-width="2.6" fill="none"/><polygon points="380.8,897.1 357.3,905.8 362,897.1 357.3,888.4" fill="#4d4d4d"/><path d="M94.6 628.0 C95.1 632.5 96.4 646.3 97.5 655.0 C98.6 663.7 99.9 672.2 101.1 680.0 C102.3 687.8 103.2 694.6 104.7 701.9 C106.2 709.2 107.7 716.5 109.8 723.8 C111.9 731.1 114.2 737.9 117.1 745.7 C120.0 753.5 123.5 762.6 127.4 770.6 C131.3 778.6 135.4 786.4 140.5 793.9 C145.6 801.4 151.4 809.2 158.0 815.8 C164.6 822.4 171.4 828.0 179.9 833.4 C188.4 838.8 199.9 844.0 209.1 848.0 C218.3 852.0 226.5 854.8 235.0 857.5 C243.5 860.2 252.9 862.8 259.9 864.5 C266.9 866.2 268.6 866.5 277.0 867.5 C285.4 868.5 299.0 869.6 310.0 870.3 C321.0 871.0 337.5 871.4 343.0 871.6" fill="none" stroke="#000" stroke-width="2.3"/><path d="M104.6 620.0 C105.2 625.0 106.9 640.0 108.5 650.0 C110.1 660.0 112.6 671.8 114.2 680.0 C115.8 688.2 116.2 692.2 117.9 699.0 C119.6 705.8 121.9 712.6 124.4 720.9 C127.0 729.2 129.8 739.4 133.2 748.6 C136.6 757.9 140.8 768.1 144.9 776.4 C149.0 784.7 152.9 791.7 158.0 798.3 C163.1 804.9 168.3 810.4 175.6 815.8 C182.9 821.1 191.9 826.0 201.8 830.4 C211.7 834.8 225.6 839.2 235.0 842.1 C244.4 845.0 245.4 845.6 258.2 848.0 C271.0 850.4 295.2 854.6 311.7 856.6 C328.2 858.6 349.7 859.7 357.3 860.3" fill="none" stroke="#800080" stroke-width="2.3" stroke-dasharray="3.6 2.1"/><path d="M92.1 682.3 L276.6 866.4" stroke="#36453a" stroke-width="3.8" stroke-dasharray="3.4 3.2" fill="none"/><circle cx="168.8" cy="691.6" r="16.9" fill="url(#gSph)"/><circle cx="202.6" cy="705.9" r="10.4" fill="url(#gSph)"/><circle cx="236.4" cy="701.5" r="7.8" fill="url(#gSph)"/><circle cx="261.6" cy="715.0" r="7.8" fill="url(#gSph)"/><circle cx="229.9" cy="725.9" r="10.4" fill="url(#gSph)"/><circle cx="246.2" cy="751.9" r="7.8" fill="url(#gSph)"/><circle cx="280.0" cy="760.5" r="16.9" fill="url(#gSph)"/><circle cx="254.0" cy="782.5" r="10.4" fill="url(#gSph)"/><path d="M95.3 685.5 L109.5 699.7 M95.3 699.7 L109.5 685.5" stroke="#000" stroke-width="6.4" fill="none"/><path d="M269.8 860.0 L284.0 874.2 M269.8 874.2 L284.0 860.0" stroke="#000" stroke-width="6.4" fill="none"/><path d="M115.0 705.7 L129.2 719.9 M115.0 719.9 L129.2 705.7" stroke="#800080" stroke-width="6.4" fill="none"/><path d="M251.1 840.9 L265.3 855.1 M251.1 855.1 L265.3 840.9" stroke="#800080" stroke-width="6.4" fill="none"/><circle cx="187.7" cy="777.9" r="9.7" fill="#000"/><text x="142.7" y="664.2" font-size="28.6" font-weight="bold" fill="#4a8c4a" textLength="219.6" lengthAdjust="spacingAndGlyphs">Phase separated</text><text x="72.4" y="891.6" font-size="27.9" font-weight="bold" fill="#4a4a4a" textLength="192.6" lengthAdjust="spacingAndGlyphs">Homogeneous</text><text x="185.9" y="930.7" font-size="31.8" font-weight="bold" fill="#4a4a4a" textLength="85.5" lengthAdjust="spacingAndGlyphs">[BSA]</text><text transform="translate(51.0 815.6) rotate(-90)" font-size="37.3" font-weight="bold" fill="#4a4a4a" textLength="90.2" lengthAdjust="spacingAndGlyphs">[PEG]</text><text transform="translate(190.5 736.5) rotate(45)" font-size="23.4" font-weight="bold" textLength="57.0" lengthAdjust="spacingAndGlyphs">Initial</text><text transform="translate(162.4 737.6) rotate(45)" font-size="23.4" font-weight="bold" textLength="98.0" lengthAdjust="spacingAndGlyphs">condition</text><text transform="translate(146.0 779.5) rotate(45)" font-size="24.7" font-weight="bold" fill="#800080" textLength="60.0" lengthAdjust="spacingAndGlyphs">+ATP</text><clipPath id="cpc3"><rect x="68.8" y="945" width="320" height="243.6"/></clipPath><g clip-path="url(#cpc3)"><rect x="68.8" y="930" width="320" height="258.6" fill="url(#gGray2)"/></g><clipPath id="cpc4"><path d="M76.8 1177.6 L86.4 1145.9 C89.1 1138.7 95.9 1117.9 102.3 1102.7 C108.7 1087.5 116.7 1069.8 125.0 1055.0 C133.3 1040.2 142.1 1027.0 152.3 1014.1 C162.5 1001.2 175.0 987.7 186.4 977.7 C197.8 967.7 209.9 959.4 220.5 953.9 C231.1 948.4 240.9 945.4 250.0 944.8 C259.1 944.1 267.6 945.7 275.3 950.0 C283.0 954.3 290.5 962.1 296.1 970.5 C301.7 978.9 307.4 991.0 309.1 1000.3 C310.8 1009.6 309.5 1016.8 306.5 1026.3 C303.5 1035.8 296.8 1048.4 290.9 1057.5 C285.0 1066.6 277.8 1074.2 271.0 1081.0 C264.2 1087.8 258.4 1091.9 250.0 1098.2 C241.6 1104.5 231.1 1112.2 220.5 1118.6 C209.9 1125.0 199.7 1130.5 186.4 1136.8 C173.1 1143.0 154.2 1151.0 140.9 1156.1 C127.6 1161.2 112.5 1165.6 106.8 1167.5 Z"/></clipPath><path d="M76.8 1177.6 L86.4 1145.9 C89.1 1138.7 95.9 1117.9 102.3 1102.7 C108.7 1087.5 116.7 1069.8 125.0 1055.0 C133.3 1040.2 142.1 1027.0 152.3 1014.1 C162.5 1001.2 175.0 987.7 186.4 977.7 C197.8 967.7 209.9 959.4 220.5 953.9 C231.1 948.4 240.9 945.4 250.0 944.8 C259.1 944.1 267.6 945.7 275.3 950.0 C283.0 954.3 290.5 962.1 296.1 970.5 C301.7 978.9 307.4 991.0 309.1 1000.3 C310.8 1009.6 309.5 1016.8 306.5 1026.3 C303.5 1035.8 296.8 1048.4 290.9 1057.5 C285.0 1066.6 277.8 1074.2 271.0 1081.0 C264.2 1087.8 258.4 1091.9 250.0 1098.2 C241.6 1104.5 231.1 1112.2 220.5 1118.6 C209.9 1125.0 199.7 1130.5 186.4 1136.8 C173.1 1143.0 154.2 1151.0 140.9 1156.1 C127.6 1161.2 112.5 1165.6 106.8 1167.5 Z" fill="#b0dbb1"/><g clip-path="url(#cpc4)"><path d="M76.8 1177.6 L86.4 1145.9 C89.1 1138.7 95.9 1117.9 102.3 1102.7 C108.7 1087.5 116.7 1069.8 125.0 1055.0 C133.3 1040.2 142.1 1027.0 152.3 1014.1 C162.5 1001.2 175.0 987.7 186.4 977.7 C197.8 967.7 209.9 959.4 220.5 953.9 C231.1 948.4 240.9 945.4 250.0 944.8 C259.1 944.1 267.6 945.7 275.3 950.0 C283.0 954.3 290.5 962.1 296.1 970.5 C301.7 978.9 307.4 991.0 309.1 1000.3 C310.8 1009.6 309.5 1016.8 306.5 1026.3 C303.5 1035.8 296.8 1048.4 290.9 1057.5 C285.0 1066.6 277.8 1074.2 271.0 1081.0 C264.2 1087.8 258.4 1091.9 250.0 1098.2 C241.6 1104.5 231.1 1112.2 220.5 1118.6 C209.9 1125.0 199.7 1130.5 186.4 1136.8 C173.1 1143.0 154.2 1151.0 140.9 1156.1 C127.6 1161.2 112.5 1165.6 106.8 1167.5 Z" fill="#79bd7b" stroke="#b0dbb1" stroke-width="14" filter="url(#fBlurG2)"/></g><path d="M76.8 1177.6 L86.4 1145.9 C89.1 1138.7 95.9 1117.9 102.3 1102.7 C108.7 1087.5 116.7 1069.8 125.0 1055.0 C133.3 1040.2 142.1 1027.0 152.3 1014.1 C162.5 1001.2 175.0 987.7 186.4 977.7 C197.8 967.7 209.9 959.4 220.5 953.9 C231.1 948.4 240.9 945.4 250.0 944.8 C259.1 944.1 267.6 945.7 275.3 950.0 C283.0 954.3 290.5 962.1 296.1 970.5 C301.7 978.9 307.4 991.0 309.1 1000.3 C310.8 1009.6 309.5 1016.8 306.5 1026.3 C303.5 1035.8 296.8 1048.4 290.9 1057.5 C285.0 1066.6 277.8 1074.2 271.0 1081.0 C264.2 1087.8 258.4 1091.9 250.0 1098.2 C241.6 1104.5 231.1 1112.2 220.5 1118.6 C209.9 1125.0 199.7 1130.5 186.4 1136.8 C173.1 1143.0 154.2 1151.0 140.9 1156.1 C127.6 1161.2 112.5 1165.6 106.8 1167.5 Z" fill="none" stroke="#000" stroke-width="2.9" stroke-linejoin="round"/><path d="M94.3 1161.8 L101.1 1134.5 C103.6 1127.7 110.0 1107.2 115.9 1093.6 C121.8 1080.0 128.5 1065.6 136.4 1052.7 C144.3 1039.8 153.8 1027.4 163.6 1016.4 C173.4 1005.4 185.7 994.2 195.5 986.8 C205.3 979.4 213.6 975.2 222.7 972.0 C231.8 968.8 242.4 967.2 250.0 967.5 C257.6 967.8 262.8 969.8 268.0 973.5 C273.2 977.2 277.8 983.3 281.0 989.5 C284.2 995.7 286.9 1002.8 287.0 1010.7 C287.1 1018.6 285.0 1028.7 281.8 1036.7 C278.6 1044.8 273.3 1052.2 268.0 1059.0 C262.7 1065.8 256.8 1071.0 250.0 1077.7 C243.2 1084.4 236.4 1092.1 227.3 1099.3 C218.2 1106.5 208.0 1113.9 195.5 1120.9 C183.0 1127.9 165.2 1135.9 152.3 1141.4 C139.4 1146.9 123.9 1151.8 118.2 1153.9 Z" fill="none" stroke="#800080" stroke-width="2.3" stroke-dasharray="3.6 2.1"/><path d="M284.9 961.4 L303.4 943.2" stroke="#585858" stroke-width="3.8" stroke-dasharray="3.4 3.2" fill="none"/><path d="M76.6 1179.5 L284.9 961.4" stroke="#36453a" stroke-width="3.8" stroke-dasharray="3.4 3.2" fill="none"/><circle cx="168.2" cy="1040.7" r="13.2" fill="url(#gSph2)"/><circle cx="198.4" cy="1026.6" r="10.2" fill="url(#gSph2)"/><circle cx="225.0" cy="1049.3" r="10.2" fill="url(#gSph2)"/><circle cx="234.1" cy="1068.6" r="7.4" fill="url(#gSph2)"/><circle cx="141.6" cy="1070.9" r="10.2" fill="url(#gSph2)"/><circle cx="144.3" cy="1091.8" r="7.4" fill="url(#gSph2)"/><circle cx="125.7" cy="1105.5" r="7.4" fill="url(#gSph2)"/><circle cx="193.2" cy="1099.3" r="14.3" fill="url(#gSph2)"/><circle cx="166.4" cy="1114.5" r="7.4" fill="url(#gSph2)"/><circle cx="145.0" cy="1131.1" r="10.2" fill="url(#gSph2)"/><path d="M69.2 1188.6 L69.2 950" stroke="#4d4d4d" stroke-width="2.6" fill="none"/><polygon points="69.2,933.4 78.2,957.5 69.2,953 60.2,957.5" fill="#4d4d4d"/><path d="M67.9 1188.3 L358 1188.3" stroke="#4d4d4d" stroke-width="2.6" fill="none"/><polygon points="378,1188.3 354.5,1197 359.2,1188.3 354.5,1179.6" fill="#4d4d4d"/><path d="M70.2 1171.8 L84.4 1186.0 M70.2 1186.0 L84.4 1171.8" stroke="#000" stroke-width="6.4" fill="none"/><path d="M277.8 954.3 L292.0 968.5 M277.8 968.5 L292.0 954.3" stroke="#000" stroke-width="6.4" fill="none"/><path d="M87.2 1154.7 L101.4 1168.9 M87.2 1168.9 L101.4 1154.7" stroke="#800080" stroke-width="6.4" fill="none"/><path d="M261.7 971.9 L275.9 986.1 M261.7 986.1 L275.9 971.9" stroke="#800080" stroke-width="6.4" fill="none"/><circle cx="183.6" cy="1068" r="10" fill="#000"/><path d="M302.6 1105.5 L209 1078.2" stroke="#000" stroke-width="2.6" fill="none"/><polygon points="194.3,1074.3 218.2,1072.7 211.4,1078.9 212.5,1086.8" fill="#000"/><text x="309.0" y="1104.7" font-size="23.4" font-weight="bold" textLength="62.8" lengthAdjust="spacingAndGlyphs">Initial</text><text x="292.8" y="1123.7" font-size="23.4" font-weight="bold" textLength="100.8" lengthAdjust="spacingAndGlyphs">condition</text><text x="182.0" y="1009.5" font-size="24.7" font-weight="bold" fill="#800080" textLength="59.7" lengthAdjust="spacingAndGlyphs">+ATP</text><text x="149.3" y="1180.8" font-size="27.9" font-weight="bold" fill="#4a4a4a" textLength="192.9" lengthAdjust="spacingAndGlyphs">Homogeneous</text><text x="186.9" y="1223.5" font-size="33.5" font-weight="bold" fill="#4a4a4a" textLength="8.9" lengthAdjust="spacingAndGlyphs">[</text><text x="198.8" y="1223.5" font-size="33.5" font-weight="bold" fill="#4a4a4a" textLength="24.3" lengthAdjust="spacingAndGlyphs">D</text><text x="224.1" y="1231.7" font-size="24.3" font-weight="bold" fill="#4a4a4a" textLength="25.6" lengthAdjust="spacingAndGlyphs">10</text><text x="251.0" y="1223.5" font-size="33.5" font-weight="bold" fill="#4a4a4a" textLength="9.4" lengthAdjust="spacingAndGlyphs">]</text><text transform="translate(52.4 1089.6) rotate(-90)" font-size="37" font-weight="bold" fill="#4a4a4a" textLength="10.1" lengthAdjust="spacingAndGlyphs">[</text><text transform="translate(52.4 1076.6) rotate(-90)" font-size="37" font-weight="bold" fill="#4a4a4a" textLength="19.8" lengthAdjust="spacingAndGlyphs">K</text><text transform="translate(60.7 1056.1) rotate(-90)" font-size="24.3" font-weight="bold" fill="#4a4a4a" textLength="26.2" lengthAdjust="spacingAndGlyphs">10</text><text transform="translate(52.4 1029.0) rotate(-90)" font-size="37" font-weight="bold" fill="#4a4a4a" textLength="10.3" lengthAdjust="spacingAndGlyphs">]</text>
<text x="443.8" y="648.7" font-size="44.5" font-weight="bold" textLength="29.6" lengthAdjust="spacingAndGlyphs">d</text><text x="508.3" y="703.4" font-size="42.6" font-weight="bold" textLength="29.5" lengthAdjust="spacingAndGlyphs">K</text><text x="537.7" y="711.2" font-size="27.5" font-weight="bold" textLength="29.1" lengthAdjust="spacingAndGlyphs">10</text><rect x="568.2" y="690.4" width="11.3" height="5.2" fill="#000"/><text x="580.1" y="703.4" font-size="42.6" font-weight="bold" textLength="28.8" lengthAdjust="spacingAndGlyphs">D</text><text x="608.6" y="711.2" font-size="27.5" font-weight="bold" textLength="29.8" lengthAdjust="spacingAndGlyphs">10</text><rect x="485.9" y="714.7" width="169.1" height="483.6" fill="#000"/><rect x="491.9" y="720.6" width="157.1" height="152.0" fill="#fff"/><clipPath id="cpk0"><rect x="491.9" y="720.6" width="157.1" height="152.0"/></clipPath><rect x="491.9" y="878.7" width="157.1" height="155.0" fill="#fff"/><clipPath id="cpk1"><rect x="491.9" y="878.7" width="157.1" height="155.0"/></clipPath><rect x="491.9" y="1040.2" width="157.1" height="151.5" fill="#fff"/><clipPath id="cpk2"><rect x="491.9" y="1040.2" width="157.1" height="151.5"/></clipPath><g clip-path="url(#cpk0)"><g filter="url(#fK1)"><circle cx="576.1" cy="806.2" r="64.5" fill="rgb(207,207,207)"/></g></g><g clip-path="url(#cpk1)"><g filter="url(#fK2)"><circle cx="526.6" cy="878.1" r="25.7" fill="rgb(224,224,224)"/><circle cx="557.4" cy="893.2" r="7.5" fill="rgb(209,209,209)"/><circle cx="594.9" cy="908.9" r="21.7" fill="rgb(224,224,224)"/><circle cx="515.4" cy="920.4" r="15.1" fill="rgb(222,222,222)"/><circle cx="559.8" cy="925.2" r="7.5" fill="rgb(209,209,209)"/><circle cx="640.4" cy="933.4" r="9.0" fill="rgb(209,209,209)"/><circle cx="497.9" cy="964.2" r="24.2" fill="rgb(222,222,222)"/><circle cx="601.2" cy="977.8" r="31.7" fill="rgb(227,227,227)"/><circle cx="545.6" cy="967.8" r="2.5" fill="rgb(191,191,191)"/><circle cx="537.2" cy="1003.4" r="9.0" fill="rgb(209,209,209)"/><circle cx="516.0" cy="1036.6" r="21.0" fill="rgb(222,222,222)"/><circle cx="559.8" cy="1038.0" r="18.7" fill="rgb(222,222,222)"/><circle cx="596.7" cy="1038.0" r="10.6" fill="rgb(214,214,214)"/><circle cx="632.3" cy="1038.0" r="12.0" fill="rgb(230,230,230)"/></g></g><g clip-path="url(#cpk2)"><g filter="url(#fK2)"><circle cx="548.4" cy="1111.2" r="29.3" fill="rgb(230,230,230)"/></g></g><text transform="translate(477.7 840.3) rotate(-90)" font-size="40" textLength="92.5" lengthAdjust="spacingAndGlyphs">0mM</text><text transform="translate(477.7 996.1) rotate(-90)" font-size="40" textLength="94.3" lengthAdjust="spacingAndGlyphs">3mM</text><text transform="translate(477.7 1178.2) rotate(-90)" font-size="40" textLength="116.3" lengthAdjust="spacingAndGlyphs">15mM</text><polygon points="724.5,693.2 771,1200.6 676.7,1200.6" fill="url(#gWedgeD)"/><text transform="translate(734.9 1192.6) rotate(-90)" font-size="45" textLength="350.9" lengthAdjust="spacingAndGlyphs">ATP concentration</text><text x="785.5" y="853.1" font-size="42.3" font-weight="bold" textLength="184.1" lengthAdjust="spacingAndGlyphs">PEG-BSA</text><rect x="794.1" y="858.4" width="168.8" height="339.1" fill="#000"/><clipPath id="cpp0"><rect x="800.1" y="864.3" width="156.9" height="159.6"/></clipPath><clipPath id="cpp1"><rect x="800.1" y="1031.0" width="156.9" height="160.5"/></clipPath><g clip-path="url(#cpp0)"><g filter="url(#fP1)"><rect x="770" y="830" width="220" height="400" fill="rgb(91,91,91)"/><circle cx="809.0" cy="985.6" r="14.6" fill="rgb(64,64,64)"/><circle cx="831.0" cy="966.1" r="6.5" fill="rgb(69,69,69)"/><circle cx="846.9" cy="904.4" r="22.7" fill="rgb(41,41,41)"/><circle cx="938.2" cy="954.7" r="14.6" fill="rgb(43,43,43)"/><circle cx="889.5" cy="979.1" r="13.6" fill="rgb(43,43,43)"/><circle cx="957.0" cy="1015.0" r="4.0" fill="rgb(51,51,51)"/></g></g><g clip-path="url(#cpp1)"><g filter="url(#fP2)"><rect x="770" y="830" width="220" height="400" fill="rgb(138,138,138)"/><circle cx="856.0" cy="1086.2" r="44.5" fill="rgb(38,38,38)"/><circle cx="914.5" cy="1151.2" r="39.0" fill="rgb(38,38,38)"/><circle cx="912.9" cy="1059.6" r="7.0" fill="rgb(13,13,13)"/><circle cx="922.6" cy="1040.8" r="4.5" fill="rgb(13,13,13)"/><circle cx="805.7" cy="1078.1" r="5.0" fill="rgb(20,20,20)"/><circle cx="834.3" cy="1147.9" r="4.2" fill="rgb(13,13,13)"/><circle cx="944.7" cy="1182.0" r="4.2" fill="rgb(8,8,8)"/><circle cx="844.0" cy="1033.6" r="5.0" fill="rgb(13,13,13)"/><circle cx="929.0" cy="1032.0" r="4.0" fill="rgb(13,13,13)"/></g></g><text transform="translate(995.8 991.1) rotate(-90)" font-size="40" textLength="92.0" lengthAdjust="spacingAndGlyphs">0mM</text><text transform="translate(995.8 1188.0) rotate(-90)" font-size="40" textLength="147.4" lengthAdjust="spacingAndGlyphs">6.25mM</text><rect x="1060.3" y="720.5" width="33" height="480.5" fill="#000"/><rect x="1064.5" y="724.7" width="24.6" height="472" fill="url(#gJet)"/><rect x="1093" y="724.2" width="12" height="3.4" fill="#000"/><rect x="1093" y="957.3" width="12" height="3.4" fill="#000"/><rect x="1093" y="1187.3" width="12" height="3.4" fill="#000"/><text x="1106.7" y="749.1" font-size="44.8" textLength="53.8" lengthAdjust="spacingAndGlyphs">80</text><text x="1108.6" y="972.7" font-size="44.8" textLength="51.0" lengthAdjust="spacingAndGlyphs">25</text><text x="1108.6" y="1201.0" font-size="44.8" textLength="25.2" lengthAdjust="spacingAndGlyphs">2</text><text x="1054.2" y="697.7" font-size="50" textLength="65.3" lengthAdjust="spacingAndGlyphs">ε/ε</text><text x="1119.8" y="710.0" font-size="37" textLength="21.9" lengthAdjust="spacingAndGlyphs">0</text>
<text x="1192.7" y="647.2" font-size="44.5" font-weight="bold" textLength="26.6" lengthAdjust="spacingAndGlyphs">e</text><text x="1344.9" y="667.3" font-size="40.8" fill="#e619e6" textLength="377.7" lengthAdjust="spacingAndGlyphs">BSA-depleted phase</text><text x="1320.1" y="859.7" font-size="41.5" fill="#36f6f8" textLength="234.9" lengthAdjust="spacingAndGlyphs">Glycinin-rich</text><text x="1367.6" y="897.3" font-size="41.5" fill="#36f6f8" textLength="111.9" lengthAdjust="spacingAndGlyphs">phase</text><text x="1425.3" y="1108.4" font-size="40.8" fill="#2b2bef" textLength="280.7" lengthAdjust="spacingAndGlyphs">BSA-rich phase</text><text x="1592.3" y="947.6" font-size="42.8" fill="#ff3333" textLength="23.1" lengthAdjust="spacingAndGlyphs">K</text><text x="1615.8" y="956.7" font-size="27.5" fill="#ff3333" textLength="31.4" lengthAdjust="spacingAndGlyphs">10</text><text x="1646.0" y="947.6" font-size="42.8" fill="#ff3333" textLength="15.2" lengthAdjust="spacingAndGlyphs">-</text><text x="1661.9" y="947.6" font-size="42.8" fill="#ff3333" textLength="27.3" lengthAdjust="spacingAndGlyphs">D</text><text x="1689.2" y="956.7" font-size="27.5" fill="#ff3333" textLength="31.4" lengthAdjust="spacingAndGlyphs">10</text><rect x="1302.8" y="676.7" width="4.3" height="448" fill="#000"/><rect x="1302.8" y="1120.2" width="429.6" height="4.4" fill="#000"/><rect x="1289.9" y="688.9" width="14" height="4.3" fill="#000"/><text x="1243.6" y="706.3" font-size="41" textLength="44.4" lengthAdjust="spacingAndGlyphs">60</text><rect x="1289.9" y="755.1" width="14" height="4.3" fill="#000"/><text x="1244.0" y="771.5" font-size="41" textLength="44.0" lengthAdjust="spacingAndGlyphs">50</text><rect x="1289.9" y="823.1" width="14" height="4.3" fill="#000"/><text x="1244.7" y="839.5" font-size="41" textLength="43.2" lengthAdjust="spacingAndGlyphs">40</text><rect x="1289.9" y="891.1" width="14" height="4.3" fill="#000"/><text x="1244.1" y="907.3" font-size="41" textLength="43.9" lengthAdjust="spacingAndGlyphs">30</text><rect x="1289.9" y="958.2" width="14" height="4.3" fill="#000"/><text x="1243.6" y="974.6" font-size="41" textLength="44.4" lengthAdjust="spacingAndGlyphs">20</text><rect x="1289.9" y="1026.8" width="14" height="4.3" fill="#000"/><text x="1245.3" y="1043.2" font-size="41" textLength="42.7" lengthAdjust="spacingAndGlyphs">10</text><rect x="1289.9" y="1094.8" width="14" height="4.3" fill="#000"/><text x="1259.4" y="1111.2" font-size="41" textLength="22.8" lengthAdjust="spacingAndGlyphs">0</text><rect x="1319.1" y="1122" width="4" height="14.9" fill="#000"/><rect x="1419.7" y="1122" width="4" height="14.9" fill="#000"/><rect x="1520.9" y="1122" width="4" height="14.9" fill="#000"/><rect x="1623.0" y="1122" width="4" height="14.9" fill="#000"/><rect x="1724.9" y="1122" width="4" height="14.9" fill="#000"/><text x="1311.3" y="1171.0" font-size="40.7" textLength="22.9" lengthAdjust="spacingAndGlyphs">0</text><text x="1410.2" y="1171.0" font-size="40.7" textLength="22.0" lengthAdjust="spacingAndGlyphs">4</text><text x="1511.1" y="1171.0" font-size="40.7" textLength="22.7" lengthAdjust="spacingAndGlyphs">8</text><text x="1603.7" y="1171.0" font-size="40.7" textLength="41.5" lengthAdjust="spacingAndGlyphs">12</text><text x="1707.3" y="1171.0" font-size="40.7" textLength="42.9" lengthAdjust="spacingAndGlyphs">16</text><text x="1313.5" y="1209.6" font-size="40" textLength="425.9" lengthAdjust="spacingAndGlyphs">ATP concentration (mM)</text><text transform="translate(1224.0 1101.3) rotate(-90)" font-size="40.3" textLength="427.2" lengthAdjust="spacingAndGlyphs">Permittivity increase (%)</text><line x1="1320.9" y1="1096.6" x2="1346.4" y2="898.8" stroke="#0f9b9b" stroke-width="3.6"/><line x1="1320.9" y1="1096.6" x2="1477.9" y2="694.9" stroke="#9a1a9a" stroke-width="3.4"/><line x1="1320.9" y1="1096.6" x2="1478.4" y2="1040.3" stroke="#00008b" stroke-width="3.9"/><polyline points="1320.9,1096.6 1396.9,997 1637.8,982.1 1701.5,977.7" fill="none" stroke="#b4282d" stroke-width="3.8" stroke-linejoin="round"/><polygon points="1346.4,879.8 1358.7,898.8 1346.4,917.8 1334.2,898.8" fill="#128c8c"/><polygon points="1346.4,884.6 1355.5,898.8 1346.4,913.0 1337.3,898.8" fill="#33ffff"/><polygon points="1477.9,675.7 1490.4,694.9 1477.9,714.1 1465.4,694.9" fill="#8b1a8b"/><polygon points="1477.9,680.6 1487.2,694.9 1477.9,709.2 1468.6,694.9" fill="#ff33ff"/><polygon points="1478.4,1021.1 1490.4,1040.3 1478.4,1059.5 1466.4,1040.3" fill="#00008b"/><polygon points="1478.4,1026.0 1487.3,1040.3 1478.4,1054.6 1469.5,1040.3" fill="#3333ff"/><polygon points="1396.9,977.4 1409.0,997.0 1396.9,1016.6 1384.8,997.0" fill="#b4282d"/><polygon points="1396.9,982.4 1405.9,997.0 1396.9,1011.6 1387.9,997.0" fill="#ff3333"/><polygon points="1637.8,962.5 1649.9,982.1 1637.8,1001.7 1625.7,982.1" fill="#b4282d"/><polygon points="1637.8,967.5 1646.8,982.1 1637.8,996.7 1628.8,982.1" fill="#ff3333"/><polygon points="1701.5,958.1 1713.6,977.7 1701.5,997.3 1689.4,977.7" fill="#b4282d"/><polygon points="1701.5,963.1 1710.5,977.7 1701.5,992.3 1692.5,977.7" fill="#ff3333"/><polygon points="1320.9,1077.0 1333.0,1096.6 1320.9,1116.2 1308.8,1096.6" fill="#b4282d"/><polygon points="1320.9,1082.0 1329.9,1096.6 1320.9,1111.2 1311.9,1096.6" fill="#ff3333"/>
</svg>
</body></html>
